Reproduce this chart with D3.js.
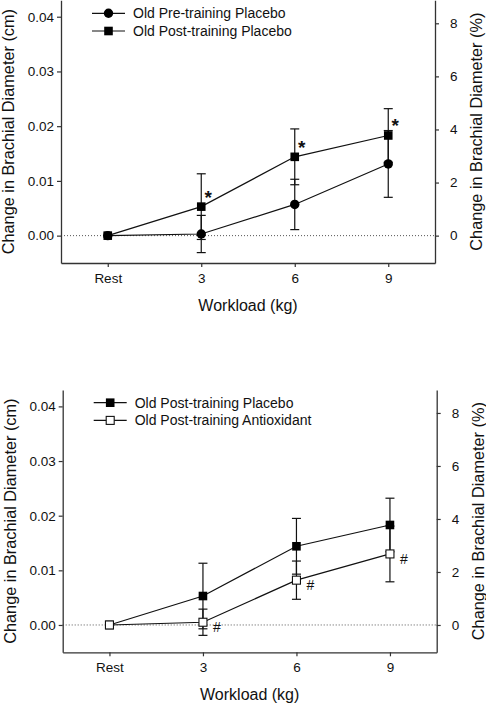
<!DOCTYPE html>
<html>
<head>
<meta charset="utf-8">
<script src="https://cdn.jsdelivr.net/npm/d3@7"></script>
<style>
  html, body { margin: 0; padding: 0; background: #fff; }
  svg { display: block; font-family: "Liberation Sans", Arial, sans-serif; }
</style>
</head>
<body>
<svg id="chart" width="486" height="704"></svg>
<script>
// ---- data ----
const categories = ["Rest", "3", "6", "9"];
const preMean  = [0, 0.0003, 0.0057, 0.0131];
const preErr   = [0, 0.0034, 0.0046, 0.0061];
const postMean = [0, 0.0053, 0.0144, 0.0183];
const postErr  = [0, 0.0060, 0.0051, 0.0049];
const antiMean = [0, 0.0005, 0.0082, 0.0130];
const antiErr  = [0, 0.0024, 0.0035, 0.0051];
const leftTicks  = [0, 0.01, 0.02, 0.03, 0.04];
const rightTicks = [0, 2, 4, 6, 8];
const leftDomain  = [-0.005, 0.043];
const pctPerCm = 206.2;
const starIdx = [1, 2, 3];
const hashIdx = [1, 2, 3];
const xTitle = "Workload (kg)";
const yTitleL = "Change in Brachial Diameter (cm)";
const yTitleR = "Change in Brachial Diameter (%)";

const svg = d3.select("#chart");

function drawPanel(cfg) {
  const g = svg.append("g");
  const x = d3.scaleLinear().domain([-0.5, categories.length - 0.5]).range([cfg.left, cfg.right]);
  const y = d3.scaleLinear().domain(leftDomain).range([cfg.bottom, cfg.top]);
  const yR = d3.scaleLinear().domain(leftDomain.map(v => v * pctPerCm)).range([cfg.bottom, cfg.top]);

  // zero dotted line
  g.append("line")
    .attr("x1", cfg.left).attr("x2", cfg.right)
    .attr("y1", y(0)).attr("y2", y(0))
    .attr("stroke", "#555").attr("stroke-width", 1)
    .attr("stroke-dasharray", "1,2");

  // axes
  const axL = g.append("g").attr("transform", `translate(${cfg.left},0)`)
    .call(d3.axisLeft(y).tickValues(leftTicks).tickFormat(d3.format(".2f")).tickSize(4).tickSizeOuter(0).tickPadding(3));
  const axR = g.append("g").attr("transform", `translate(${cfg.right},0)`)
    .call(d3.axisRight(yR).tickValues(rightTicks).tickFormat(d3.format("d")).tickSize(4).tickSizeOuter(0).tickPadding(11));
  const axB = g.append("g").attr("transform", `translate(0,${cfg.bottom})`)
    .call(d3.axisBottom(x).tickValues(d3.range(categories.length)).tickFormat(i => categories[i]).tickSize(4).tickSizeOuter(0).tickPadding(6));
  [axL, axR, axB].forEach(a => {
    a.selectAll("path").attr("stroke", "#333").attr("stroke-width", 1.3);
    a.selectAll("line").attr("stroke", "#333").attr("stroke-width", 1.2);
    a.selectAll("text").attr("font-size", 13.5).attr("fill", "#111").attr("font-family", "Liberation Sans, Arial, sans-serif");
  });

  // titles
  g.append("text").attr("x", (cfg.left + cfg.right) / 2).attr("y", cfg.bottom + 48)
    .attr("text-anchor", "middle").attr("font-size", 16).attr("fill", "#111").text(xTitle);
  g.append("text").attr("transform", `translate(${cfg.left - 47},${(cfg.top + cfg.bottom) / 2}) rotate(-90)`)
    .attr("text-anchor", "middle").attr("font-size", 16.3).attr("fill", "#111").text(yTitleL);
  g.append("text").attr("transform", `translate(${cfg.right + 47},${(cfg.top + cfg.bottom) / 2}) rotate(-90)`)
    .attr("text-anchor", "middle").attr("font-size", 16.3).attr("fill", "#111").text(yTitleR);

  // series
  cfg.series.forEach(s => {
    const pts = s.mean.map((m, i) => ({ i, m, e: s.err[i] }));
    const eb = g.append("g");
    pts.filter(p => p.e > 0).forEach(p => {
      const cx = x(p.i);
      eb.append("line").attr("x1", cx).attr("x2", cx).attr("y1", y(p.m - p.e)).attr("y2", y(p.m + p.e))
        .attr("stroke", "#111").attr("stroke-width", 1.2);
      [p.m - p.e, p.m + p.e].forEach(v => {
        eb.append("line").attr("x1", cx - 4.5).attr("x2", cx + 4.5).attr("y1", y(v)).attr("y2", y(v))
          .attr("stroke", "#111").attr("stroke-width", 1.2);
      });
    });
    g.append("path").datum(pts)
      .attr("d", d3.line().x(p => x(p.i)).y(p => y(p.m)))
      .attr("fill", "none").attr("stroke", "#111").attr("stroke-width", 1.2);
  });
  cfg.series.forEach(s => {
    s.mean.forEach((m, i) => drawMarker(g, s.shape, x(i), y(m)));
  });

  // annotations
  cfg.series.forEach(s => {
    if (!s.annot) return;
    s.annot.idx.forEach(i => {
      g.append("text").attr("x", x(i) + s.annot.dx).attr("y", y(s.mean[i]) + s.annot.dy)
        .attr("text-anchor", "middle").attr("font-size", s.annot.size).attr("fill", "#111")
        .attr("font-weight", s.annot.weight || "normal")
        .text(s.annot.text);
    });
  });

  // legend
  cfg.series.forEach((s, k) => {
    const ly = cfg.legendY + k * 17.7;
    const lx = cfg.left + 31;
    g.append("line").attr("x1", lx).attr("x2", lx + 33).attr("y1", ly).attr("y2", ly)
      .attr("stroke", "#111").attr("stroke-width", 1.2);
    drawMarker(g, s.shape, lx + 16.5, ly);
    g.append("text").attr("x", lx + 41).attr("y", ly + 5).attr("font-size", 14).attr("fill", "#111").text(s.name);
  });
}

function drawMarker(g, shape, cx, cy) {
  if (shape === "circle") {
    g.append("circle").attr("cx", cx).attr("cy", cy).attr("r", 4.7).attr("fill", "#000");
  } else if (shape === "square") {
    g.append("rect").attr("x", cx - 4.3).attr("y", cy - 4.3).attr("width", 8.6).attr("height", 8.6).attr("fill", "#000");
  } else {
    g.append("rect").attr("x", cx - 4).attr("y", cy - 4).attr("width", 8).attr("height", 8)
      .attr("fill", "#fff").attr("stroke", "#111").attr("stroke-width", 1.1);
  }
}

drawPanel({
  left: 61, right: 435, top: 0.3, bottom: 263, legendY: 13.3,
  series: [
    { name: "Old Pre-training Placebo", shape: "circle", mean: preMean, err: preErr },
    { name: "Old Post-training Placebo", shape: "square", mean: postMean, err: postErr,
      annot: { idx: starIdx, text: "*", dx: 7, dy: -3, size: 19, weight: "bold" } }
  ]
});

drawPanel({
  left: 62.7, right: 436.7, top: 390, bottom: 652.3, legendY: 402.7,
  series: [
    { name: "Old Post-training Placebo", shape: "square", mean: postMean, err: postErr },
    { name: "Old Post-training Antioxidant", shape: "open", mean: antiMean, err: antiErr,
      annot: { idx: hashIdx, text: "#", dx: 14, dy: 10, size: 14 } }
  ]
});
</script>
</body>
</html>
